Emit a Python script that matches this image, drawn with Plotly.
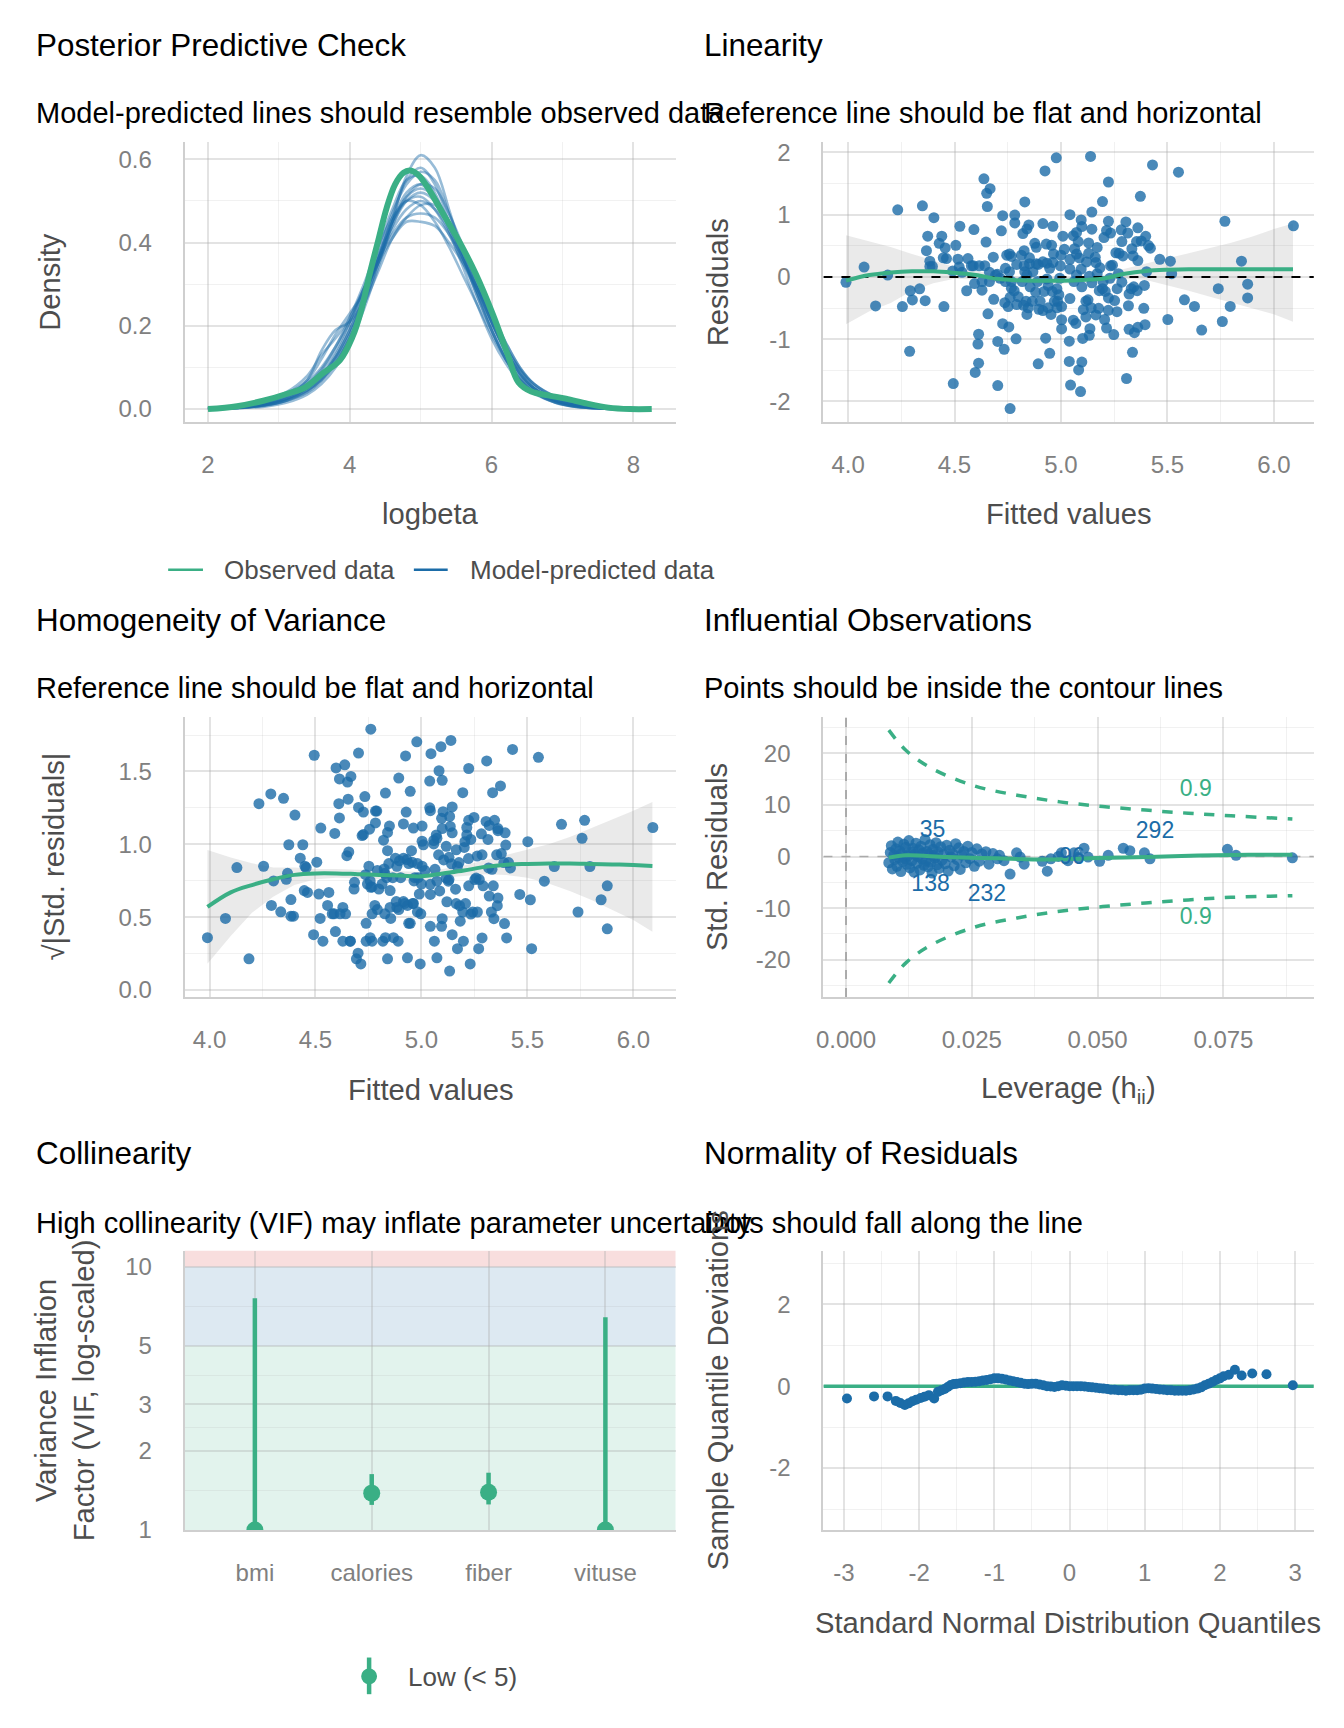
import numpy as np
import plotly.graph_objects as go

GREEN = "#3AAF85"
BLUE = "#1B6CA8"
FONT = "Liberation Sans, Arial, sans-serif"
W, H = 1344, 1728

# ---------------- data ----------------
# posterior predictive check
ppc_obs_x = [2.0, 2.41, 2.78, 3.14, 3.38, 3.62, 3.86, 4.04, 4.16, 4.28, 4.40, 4.52, 4.64, 4.76, 4.85,
             4.97, 5.12, 5.30, 5.54, 5.78, 6.02, 6.23, 6.38, 6.56, 6.80, 7.05, 7.35, 7.65, 7.95, 8.26]
ppc_obs_y = [0.0, 0.007, 0.02, 0.038, 0.053, 0.086, 0.117, 0.174, 0.236, 0.324, 0.404, 0.483, 0.54, 0.568, 0.573,
             0.562, 0.527, 0.474, 0.404, 0.324, 0.227, 0.13, 0.064, 0.042, 0.033, 0.025, 0.013, 0.0035, 0.0, 0.0]
ppc_sim_x = [2.0, 2.4, 2.8, 3.1, 3.4, 3.6, 3.8, 4.0, 4.2, 4.4, 4.6, 4.8, 5.0, 5.2, 5.4, 5.6, 5.8, 6.0,
             6.2, 6.4, 6.6, 6.9, 7.2, 7.6, 8.0]
ppc_sim = [
    [0.001, 0.004, 0.012, 0.025, 0.05, 0.08, 0.125, 0.19, 0.27, 0.36, 0.44, 0.50, 0.52, 0.50, 0.44, 0.37, 0.29, 0.21, 0.14, 0.085, 0.05, 0.022, 0.008, 0.002, 0.0],
    [0.0, 0.002, 0.008, 0.02, 0.045, 0.075, 0.12, 0.18, 0.26, 0.36, 0.46, 0.55, 0.58, 0.54, 0.45, 0.36, 0.27, 0.19, 0.12, 0.07, 0.04, 0.016, 0.005, 0.001, 0.0],
    [0.002, 0.008, 0.02, 0.04, 0.08, 0.13, 0.17, 0.22, 0.29, 0.36, 0.42, 0.46, 0.47, 0.46, 0.42, 0.36, 0.29, 0.22, 0.15, 0.095, 0.055, 0.025, 0.01, 0.003, 0.0],
    [0.0, 0.002, 0.006, 0.015, 0.035, 0.06, 0.10, 0.16, 0.24, 0.34, 0.45, 0.56, 0.61, 0.58, 0.48, 0.37, 0.27, 0.19, 0.12, 0.07, 0.04, 0.015, 0.005, 0.001, 0.0],
    [0.001, 0.005, 0.015, 0.03, 0.06, 0.095, 0.15, 0.22, 0.30, 0.39, 0.46, 0.50, 0.49, 0.45, 0.39, 0.32, 0.25, 0.18, 0.12, 0.075, 0.045, 0.02, 0.008, 0.002, 0.0],
    [0.001, 0.004, 0.012, 0.03, 0.07, 0.14, 0.19, 0.21, 0.26, 0.35, 0.45, 0.52, 0.54, 0.51, 0.44, 0.36, 0.28, 0.20, 0.13, 0.08, 0.045, 0.018, 0.006, 0.001, 0.0],
    [0.001, 0.003, 0.01, 0.022, 0.045, 0.07, 0.11, 0.17, 0.25, 0.33, 0.41, 0.46, 0.49, 0.49, 0.45, 0.39, 0.31, 0.23, 0.16, 0.10, 0.06, 0.028, 0.012, 0.003, 0.0],
    [0.0, 0.003, 0.01, 0.024, 0.05, 0.08, 0.13, 0.20, 0.29, 0.39, 0.48, 0.55, 0.56, 0.52, 0.43, 0.34, 0.25, 0.17, 0.11, 0.065, 0.038, 0.016, 0.006, 0.001, 0.0],
    [0.002, 0.006, 0.016, 0.035, 0.065, 0.10, 0.15, 0.21, 0.28, 0.35, 0.41, 0.45, 0.45, 0.44, 0.40, 0.35, 0.29, 0.23, 0.16, 0.10, 0.06, 0.03, 0.012, 0.003, 0.0],
    [0.001, 0.004, 0.011, 0.024, 0.05, 0.08, 0.125, 0.19, 0.27, 0.36, 0.45, 0.51, 0.53, 0.51, 0.45, 0.38, 0.30, 0.22, 0.15, 0.095, 0.06, 0.03, 0.014, 0.004, 0.0],
    [0.001, 0.004, 0.013, 0.028, 0.055, 0.09, 0.14, 0.21, 0.29, 0.37, 0.45, 0.50, 0.51, 0.48, 0.42, 0.35, 0.28, 0.21, 0.14, 0.09, 0.05, 0.022, 0.009, 0.002, 0.0],
    [0.0, 0.003, 0.009, 0.02, 0.042, 0.07, 0.115, 0.18, 0.27, 0.37, 0.47, 0.54, 0.57, 0.55, 0.47, 0.38, 0.28, 0.19, 0.12, 0.072, 0.04, 0.017, 0.006, 0.001, 0.0],
    [0.002, 0.007, 0.018, 0.036, 0.07, 0.12, 0.18, 0.23, 0.28, 0.35, 0.43, 0.48, 0.50, 0.48, 0.43, 0.36, 0.29, 0.21, 0.14, 0.085, 0.05, 0.022, 0.009, 0.002, 0.0],
    [0.001, 0.003, 0.009, 0.02, 0.04, 0.068, 0.11, 0.17, 0.25, 0.35, 0.44, 0.51, 0.54, 0.53, 0.47, 0.39, 0.30, 0.21, 0.14, 0.085, 0.05, 0.022, 0.008, 0.002, 0.0],
]

# fitted values and residuals (linearity / homogeneity)
lin_fitted = [
    3.99, 4.075, 4.186, 4.129, 4.233, 4.255, 4.289, 4.292, 4.302, 4.336,
    4.349, 4.362, 4.374, 4.368, 4.384, 4.403, 4.396, 4.428, 4.44, 4.45,
    4.456, 4.447, 4.462, 4.494, 4.506, 4.525, 4.516, 4.522, 4.557, 4.563,
    4.591, 4.594, 4.588, 4.597, 4.613, 4.61, 4.613, 4.629, 4.638, 4.648,
    4.651, 4.667, 4.654, 4.657, 4.682, 4.684, 4.693, 4.703, 4.703, 4.72,
    4.726, 4.726, 4.733, 4.739, 4.752, 4.755, 4.761, 4.758, 4.767, 4.783,
    4.783, 4.789, 4.792, 4.814, 4.821, 4.827, 4.83, 4.84, 4.836, 4.849,
    4.852, 4.846, 4.868, 4.877, 4.884, 4.893, 4.893, 4.915, 4.925, 4.928,
    4.931, 4.934, 4.94, 4.947, 4.953, 4.956, 4.962, 4.965, 4.978, 4.984,
    4.99, 5.003, 5.003, 5.009, 5.016, 4.745, 4.767, 4.758, 4.767, 4.78,
    4.799, 4.818, 4.827, 4.84, 4.855, 4.865, 4.881, 4.89, 4.902, 4.915,
    4.921, 4.934, 4.947, 4.959, 4.969, 4.981, 4.994, 4.997, 4.962, 4.915,
    4.852, 4.792, 4.739, 4.714, 4.664, 4.642, 4.616, 4.579, 4.629, 4.664,
    4.701, 4.736, 4.761, 4.824, 4.84, 4.896, 4.94, 4.981, 5.003, 5.0,
    4.884, 4.83, 4.535, 4.491, 4.384,
    5.139, 5.43, 5.552, 5.223, 5.195, 5.373, 5.042, 5.095, 5.145, 5.223,
    5.305, 5.361, 5.77, 6.092, 5.073, 5.058, 5.098, 5.145, 5.214, 5.233,
    5.283, 5.314, 5.398, 5.377, 5.355, 5.202, 5.081, 5.13, 5.17, 5.286,
    5.411, 5.42, 5.258, 5.291, 5.333, 5.339, 5.073, 5.086, 5.161, 5.164,
    5.233, 5.273, 5.361, 5.464, 5.514, 5.848, 5.042, 5.042, 5.095, 5.133,
    5.17, 5.242, 5.27, 5.402, 5.52, 5.098, 5.145, 5.195, 5.208, 5.264,
    5.33, 5.342, 5.358, 5.392, 5.042, 5.117, 5.127, 5.18, 5.223, 5.252,
    5.32, 5.739, 5.877, 5.877, 5.58, 5.627, 5.795, 5.317, 5.389, 5.105,
    5.142, 5.177, 5.222, 5.263, 5.117, 5.164, 5.205, 5.058, 5.07, 5.502,
    5.758, 5.136, 5.214, 5.32, 5.345, 5.361, 5.395, 5.661, 5.248, 5.133,
    5.102, 5.039, 5.336, 5.039, 5.098, 5.083, 5.308, 5.045, 5.092, 5.061,
    5.073, 5.12, 5.198, 5.23, 5.286, 5.183, 5.064, 5.13,
]
lin_resid = [
    -0.085, 0.159, 0.03, -0.466, 1.079, -0.476, -1.196, -0.222, -0.37, -0.19,
    1.143, -0.381, 0.656, 0.423, 0.254, 0.952, 0.169, 0.54, 0.656, -0.476,
    0.466, 0.307, 0.296, -1.714, 0.508, 0.815, 0.286, 0.159, -0.222, 0.296,
    0.762, -0.106, 0.18, -1.534, -1.386, -1.079, -0.921, -0.212, 1.577, 0.561,
    1.344, 1.418, 1.132, -0.593, 0.317, -0.36, 0.03, -1.037, -1.746, 0.741,
    0.984, -0.751, -1.164, 0.138, -0.476, -0.804, -2.116, 0.37, -0.18, 0.995,
    0.868, -0.995, -0.444, 0.349, 0.698, 0.423, 1.206, 0.772, -0.392, 0.836,
    0.212, -0.497, 0.085, 0.54, 0.476, -1.397, 0.201, 0.857, 1.704, -0.984,
    0.529, 0.222, -0.138, -1.228, -0.603, 0.508, 0.815, 0.37, 1.915, -0.392,
    -0.286, -0.836, -0.688, 0.656, 0.444, 0.349, 0.33, 0.085, -0.074, -0.222,
    -0.317, -0.074, 0.18, 0.03, -0.159, -0.392, -0.243, -0.074, -0.392, -0.54,
    -0.233, -0.032, 0.138, -0.233, -0.392, -0.19, -0.021, 0.18, 0.233, 0.243,
    0.307, 0.201, -0.074, -0.021, 0.074, 0.18, 0.18, 0.18, -0.074, -0.074,
    0.042, -0.413, -0.328, -0.455, -0.603, -0.519, -0.497, -0.497, -0.476, 0.349,
    0.212, 0.085, 0.074, 0.095, 0.169,
    1.937, 1.8, 1.684, 1.526, 1.211, 1.295, 1.0, 0.916, 1.042, 0.895,
    0.884, 0.789, 0.895, 0.821, 0.716, 0.663, 0.81, 0.768, 0.747, 0.705,
    0.758, 0.705, 0.653, 0.579, 0.568, 0.632, 0.568, 0.547, 0.474, 0.568,
    0.505, 0.463, 0.389, 0.337, 0.453, 0.337, 0.368, 0.305, 0.316, 0.232,
    0.179, 0.379, 0.263, 0.284, 0.253, 0.253, 0.284, 0.126, 0.126, 0.011,
    0.053, 0.189, 0.053, 0.084, 0.053, -0.158, -0.095, -0.189, -0.232, -0.189,
    -0.189, -0.158, -0.221, -0.137, -0.347, -0.389, -0.368, -0.221, -0.337, -0.379,
    -0.274, -0.189, -0.116, -0.337, -0.368, -0.474, -0.474, -0.463, -0.505, -0.526,
    -0.495, -0.505, -0.537, -0.558, -0.642, -0.611, -0.684, -0.695, -0.747, -0.684,
    -0.716, -0.832, -0.821, -0.842, -0.895, -0.81, -0.768, -0.853, -0.926, -0.937,
    -0.989, -1.032, -1.211, -1.358, -1.368, -1.495, -1.632, -1.737, -1.842, -0.074,
    0.032, 0.242, -0.074, -0.021, -0.084, 0.147, 0.453, 0.379,
]
resid_sigma = 0.66

smooth_x = [3.99, 4.1, 4.2, 4.3, 4.4, 4.5, 4.6, 4.7, 4.8, 4.9, 5.0, 5.1, 5.2, 5.3, 5.4, 5.5, 5.6, 5.7, 5.8, 5.9, 6.0, 6.09]
lin_fit = [-0.06, 0.03, 0.07, 0.09, 0.09, 0.065, 0.03, -0.03, -0.055, -0.06, -0.06, -0.05, -0.025, 0.05, 0.095, 0.115, 0.125, 0.125, 0.125, 0.125, 0.125, 0.125]
lin_lo = [-0.76, -0.55, -0.42, -0.22, -0.1, -0.03, -0.04, -0.09, -0.1, -0.11, -0.11, -0.1, -0.08, -0.03, -0.05, -0.13, -0.22, -0.32, -0.42, -0.51, -0.6, -0.72]
lin_hi = [0.67, 0.57, 0.48, 0.37, 0.26, 0.16, 0.1, 0.03, 0.0, -0.01, -0.01, 0.0, 0.03, 0.13, 0.22, 0.3, 0.38, 0.46, 0.55, 0.65, 0.77, 0.86]
homo_fit = [0.57, 0.67, 0.72, 0.76, 0.79, 0.80, 0.80, 0.795, 0.79, 0.785, 0.78, 0.80, 0.82, 0.845, 0.86, 0.865, 0.868, 0.868, 0.865, 0.862, 0.857, 0.851]
homo_lo = [0.18, 0.37, 0.53, 0.64, 0.72, 0.76, 0.77, 0.765, 0.76, 0.755, 0.75, 0.77, 0.785, 0.795, 0.79, 0.77, 0.73, 0.68, 0.62, 0.55, 0.48, 0.40]
homo_hi = [0.96, 0.91, 0.87, 0.84, 0.84, 0.83, 0.83, 0.825, 0.82, 0.815, 0.81, 0.83, 0.855, 0.89, 0.925, 0.96, 1.0, 1.05, 1.11, 1.17, 1.23, 1.29]

# influential observations
infl_lev = [
    0.0085, 0.0088, 0.009, 0.0092, 0.0095, 0.0097, 0.0099, 0.0101, 0.0103, 0.0105,
    0.0107, 0.0109, 0.0111, 0.0113, 0.0115, 0.0117, 0.0119, 0.0121, 0.0123, 0.0125,
    0.0127, 0.0129, 0.0131, 0.0133, 0.0135, 0.0137, 0.0139, 0.0141, 0.0143, 0.0145,
    0.0147, 0.0149, 0.0151, 0.0153, 0.0155, 0.0157, 0.0159, 0.0161, 0.0163, 0.0165,
    0.0167, 0.0169, 0.0171, 0.0173, 0.0175, 0.0177, 0.0179, 0.0181, 0.0183, 0.0185,
    0.0188, 0.0191, 0.0194, 0.0197, 0.02, 0.0203, 0.0206, 0.0209, 0.0212, 0.0215,
    0.0218, 0.0221, 0.0224, 0.0227, 0.023, 0.0234, 0.0238, 0.0242, 0.0246, 0.025,
    0.0255, 0.026, 0.0265, 0.027,
    0.0278, 0.0284, 0.0292, 0.0301, 0.0305, 0.0314, 0.0326, 0.0339, 0.0346, 0.0354,
    0.039, 0.04, 0.0407, 0.0422, 0.0428, 0.0441, 0.0453, 0.0462, 0.0473, 0.0481,
    0.0504, 0.0521, 0.0551, 0.0564, 0.0593, 0.0604, 0.0758, 0.0775, 0.0887,
]
infl_res = [
    -1.2, 0.8, 2.1, -2.4, 0.3, -0.6, 1.5, -1.9, 2.8, -0.2,
    1.1, -2.9, 0.6, -1.0, 2.4, -0.4, 1.8, -1.5, 0.1, 3.1,
    -2.2, 0.9, -0.8, 1.6, -3.0, 0.4, 2.6, -1.3, 0.0, 1.3,
    -2.6, 2.0, -0.5, 0.7, -1.7, 3.3, -0.9, 1.0, -2.0, 0.5,
    2.3, -1.1, -3.2, 1.4, 0.2, -0.3, 2.7, -1.6, 0.9, -2.3,
    1.9, -0.7, 0.4, -1.4, 2.2, -2.8, 1.2, -0.1, 0.6, -1.8,
    2.5, -0.6, 1.7, -2.5, 0.3, 1.0, -1.2, 2.0, -0.4, 0.8,
    -1.9, 1.5, -0.9, 0.5,
    0.93, -1.47, 0.59, -0.44, 0.24, -0.79, -3.39, 0.72, -0.1, -1.47,
    -0.92, -2.84, -0.44, 0.03, 0.72, -0.79, 0.72, -0.1, 1.61, -0.1,
    -0.92, 0.24, 1.61, 1.13, 0.72, -0.44, 1.41, 0.24, -0.24,
]
infl_fit_x = [0.0085, 0.012, 0.02, 0.03, 0.04, 0.05, 0.06, 0.07, 0.08, 0.0887]
infl_fit_y = [-0.2, 0.25, -0.1, -0.35, -0.55, -0.3, -0.1, 0.2, 0.35, 0.35]
cook_lev = [0.0085, 0.012, 0.017, 0.0255, 0.034, 0.0425, 0.051, 0.0595, 0.068, 0.0765, 0.0887]
cook_upper = [24.5, 20.5, 17.1, 13.7, 11.9, 10.6, 9.7, 9.0, 8.4, 7.9, 7.3]
cook_lower = [-24.5, -20.5, -17.1, -13.7, -11.9, -10.6, -9.7, -9.0, -8.4, -7.9, -7.6]
infl_labels = ["35", "138", "232", "292", "96"]
infl_label_x = [0.0172, 0.0168, 0.028, 0.0614, 0.0449]
infl_label_y = [4.9, -5.6, -7.5, 4.8, -0.4]
cook_label = ["0.9", "0.9"]
cook_label_x = [0.0695, 0.0695]
cook_label_y = [12.8, -11.9]

# collinearity
vif_terms = ["bmi", "calories", "fiber", "vituse"]
vif_value = [1.0, 1.38, 1.39, 1.0]
vif_ci_low = [1.0, 1.245, 1.25, 1.0]
vif_ci_high = [7.6, 1.63, 1.65, 6.44]

# normality (detrended qq)
qq_x = [-2.96, -2.60, -2.42, -2.31, -2.25, -2.19, -2.14, -2.09, -2.04, -1.98,
        -1.93, -1.87, -1.80, -1.75, -1.70, -1.66, -1.62, -1.58, -1.54, -1.50,
        -1.45, -1.40, -1.35, -1.30, -1.25, -1.20, -1.15, -1.10, -1.05, -1.00,
        -0.95, -0.90, -0.85, -0.80, -0.75, -0.70, -0.65, -0.60, -0.55, -0.50,
        -0.45, -0.40, -0.35, -0.30, -0.25, -0.20, -0.15, -0.10, -0.05, 0.00,
        0.05, 0.10, 0.15, 0.20, 0.25, 0.30, 0.35, 0.40, 0.45, 0.50,
        0.55, 0.60, 0.65, 0.70, 0.75, 0.80, 0.85, 0.90, 0.95, 1.00,
        1.05, 1.10, 1.15, 1.20, 1.25, 1.30, 1.35, 1.40, 1.45, 1.50,
        1.55, 1.60, 1.65, 1.70, 1.75, 1.80, 1.85, 1.90, 1.95, 2.00,
        2.05, 2.12, 2.20, 2.29, 2.43, 2.62, 2.97]
qq_y = [-0.30, -0.25, -0.25, -0.36, -0.41, -0.46, -0.42, -0.37, -0.33, -0.29,
        -0.26, -0.22, -0.30, -0.14, -0.10, -0.07, -0.02, 0.03, 0.05, 0.06,
        0.07, 0.09, 0.10, 0.10, 0.11, 0.12, 0.14, 0.15, 0.17, 0.19,
        0.19, 0.18, 0.16, 0.14, 0.12, 0.10, 0.08, 0.06, 0.05, 0.06,
        0.06, 0.04, 0.02, 0.00, -0.01, -0.02, 0.00, 0.02, 0.01, 0.00,
        0.00, 0.00, 0.00, -0.01, -0.02, -0.03, -0.04, -0.05, -0.06, -0.07,
        -0.09, -0.09, -0.10, -0.10, -0.11, -0.10, -0.10, -0.10, -0.09, -0.06,
        -0.05, -0.06, -0.07, -0.08, -0.09, -0.10, -0.10, -0.11, -0.11, -0.11,
        -0.11, -0.10, -0.08, -0.06, -0.03, 0.02, 0.06, 0.10, 0.15, 0.19,
        0.24, 0.28, 0.40, 0.26, 0.31, 0.29, 0.02]

# axis ranges
ppc_xrange, ppc_yrange = [1.673, 8.595], [-0.031, 0.641]
lin_xrange, lin_yrange = [3.884, 6.188], [-2.331, 2.164]
homo_xrange, homo_yrange = [3.883, 6.199], [-0.048, 1.876]
infl_xrange, infl_yrange = [-0.00449, 0.09297], [-27.2, 27.1]
vif_yrange = [0, 1.062]
norm_xrange, norm_yrange = [-3.273, 3.25], [-3.51, 3.31]


def px(x):
    return x / W


def py(y):
    return 1 - y / H


fig = go.Figure()

# --- posterior predictive check
for curve in ppc_sim:
    fig.add_trace(go.Scatter(x=ppc_sim_x, y=curve, mode="lines", line=dict(color=BLUE, width=2.6, shape="spline"),
                             opacity=0.45, xaxis="x", yaxis="y", showlegend=False))
fig.add_trace(go.Scatter(x=ppc_obs_x, y=ppc_obs_y, mode="lines", line=dict(color=GREEN, width=6, shape="spline"),
                         xaxis="x", yaxis="y", showlegend=False))

# --- linearity
fig.add_trace(go.Scatter(x=smooth_x + smooth_x[::-1], y=lin_hi + lin_lo[::-1], fill="toself",
                         fillcolor="rgba(150,150,150,0.2)", line=dict(width=0), mode="lines",
                         xaxis="x2", yaxis="y2", showlegend=False))
fig.add_trace(go.Scatter(x=lin_fitted, y=lin_resid, mode="markers",
                         marker=dict(color=BLUE, size=11, opacity=0.8), xaxis="x2", yaxis="y2", showlegend=False))
fig.add_trace(go.Scatter(x=lin_xrange, y=[0, 0], mode="lines", line=dict(color="black", width=2, dash="dash"),
                         xaxis="x2", yaxis="y2", showlegend=False))
fig.add_trace(go.Scatter(x=smooth_x, y=lin_fit, mode="lines", line=dict(color=GREEN, width=4, shape="spline"),
                         xaxis="x2", yaxis="y2", showlegend=False))

# --- homogeneity of variance
homo_y = np.sqrt(np.abs(np.array(lin_resid)) / resid_sigma)
fig.add_trace(go.Scatter(x=smooth_x + smooth_x[::-1], y=homo_hi + homo_lo[::-1], fill="toself",
                         fillcolor="rgba(150,150,150,0.2)", line=dict(width=0), mode="lines",
                         xaxis="x3", yaxis="y3", showlegend=False))
fig.add_trace(go.Scatter(x=lin_fitted, y=homo_y, mode="markers",
                         marker=dict(color=BLUE, size=11, opacity=0.8), xaxis="x3", yaxis="y3", showlegend=False))
fig.add_trace(go.Scatter(x=smooth_x, y=homo_fit, mode="lines", line=dict(color=GREEN, width=4, shape="spline"),
                         xaxis="x3", yaxis="y3", showlegend=False))

# --- influential observations
fig.add_trace(go.Scatter(x=[0, 0], y=infl_yrange, mode="lines", line=dict(color="#999999", width=1.5, dash="dash"),
                         xaxis="x4", yaxis="y4", showlegend=False))
fig.add_trace(go.Scatter(x=infl_xrange, y=[0, 0], mode="lines", line=dict(color="#AAAAAA", width=1.5, dash="dash"),
                         xaxis="x4", yaxis="y4", showlegend=False))
for cy in (cook_upper, cook_lower):
    fig.add_trace(go.Scatter(x=cook_lev, y=cy, mode="lines", line=dict(color=GREEN, width=3.5, dash="dash", shape="spline"),
                             xaxis="x4", yaxis="y4", showlegend=False))
fig.add_trace(go.Scatter(x=infl_lev, y=infl_res, mode="markers",
                         marker=dict(color=BLUE, size=11, opacity=0.8), xaxis="x4", yaxis="y4", showlegend=False))
fig.add_trace(go.Scatter(x=infl_fit_x, y=infl_fit_y, mode="lines", line=dict(color=GREEN, width=4, shape="spline"),
                         xaxis="x4", yaxis="y4", showlegend=False))
fig.add_trace(go.Scatter(x=infl_label_x, y=infl_label_y, mode="text", text=infl_labels,
                         textfont=dict(color=BLUE, size=23, family=FONT), xaxis="x4", yaxis="y4", showlegend=False))
fig.add_trace(go.Scatter(x=cook_label_x, y=cook_label_y, mode="text", text=cook_label,
                         textfont=dict(color=GREEN, size=23, family=FONT), xaxis="x4", yaxis="y4", showlegend=False))

# --- collinearity
fig.add_trace(go.Scatter(
    x=vif_terms, y=vif_value, mode="markers",
    marker=dict(color=GREEN, size=17),
    error_y=dict(type="data", symmetric=False,
                 array=[h - v for h, v in zip(vif_ci_high, vif_value)],
                 arrayminus=[v - l for v, l in zip(vif_value, vif_ci_low)],
                 color=GREEN, thickness=4.5, width=0),
    xaxis="x5", yaxis="y5", showlegend=False))

# --- normality
fig.add_trace(go.Scatter(x=norm_xrange, y=[0, 0], mode="lines", line=dict(color=GREEN, width=3.5),
                         xaxis="x6", yaxis="y6", showlegend=False))
fig.add_trace(go.Scatter(x=qq_x, y=qq_y, mode="markers", marker=dict(color=BLUE, size=10),
                         xaxis="x6", yaxis="y6", showlegend=False))

# ---------------- axes ----------------
GRID = "rgba(170,170,170,0.33)"
MINOR = "rgba(170,170,170,0.17)"


def axis(domain, rng, tickvals, ticktext, minor_vals, anchor, is_x, **kw):
    d = dict(domain=domain, range=rng, tickvals=tickvals, ticktext=ticktext,
             showgrid=True, gridcolor=GRID, gridwidth=1.6, zeroline=False,
             showline=True, linecolor="#CFCFCF", linewidth=2.2, ticks="",
             tickfont=dict(size=24, color="#808080", family=FONT),
             ticklabelstandoff=20 if is_x else 26,
             minor=dict(tickvals=minor_vals, showgrid=True, gridcolor=MINOR, gridwidth=1.1),
             anchor=anchor, fixedrange=True)
    d.update(kw)
    return d


L_DOM = [px(178.7), px(672)]
R_DOM = [px(820.7), px(1313.7)]
ROW1 = [py(422.9), py(140.6)]
ROW2 = [py(1003.2), py(720.4)]
ROW3 = [py(1541.2), py(1259.2)]

lin_ticks = [4.0, 4.5, 5.0, 5.5, 6.0]
lin_text = ["4.0", "4.5", "5.0", "5.5", "6.0"]
lin_minor = [4.25, 4.75, 5.25, 5.75]

layout_axes = dict(
    xaxis=axis(L_DOM, ppc_xrange, [2, 4, 6, 8], ["2", "4", "6", "8"], [3, 5, 7], "y", True),
    yaxis=axis(ROW1, ppc_yrange, [0, 0.2, 0.4, 0.6], ["0.0", "0.2", "0.4", "0.6"], [0.1, 0.3, 0.5], "x", False),
    xaxis2=axis(R_DOM, lin_xrange, lin_ticks, lin_text, lin_minor, "y2", True),
    yaxis2=axis(ROW1, lin_yrange, [-2, -1, 0, 1, 2], ["-2", "-1", "0", "1", "2"], [-1.5, -0.5, 0.5, 1.5], "x2", False),
    xaxis3=axis(L_DOM, homo_xrange, lin_ticks, lin_text, lin_minor, "y3", True),
    yaxis3=axis(ROW2, homo_yrange, [0, 0.5, 1.0, 1.5], ["0.0", "0.5", "1.0", "1.5"], [0.25, 0.75, 1.25, 1.75], "x3", False),
    xaxis4=axis(R_DOM, infl_xrange, [0, 0.025, 0.05, 0.075], ["0.000", "0.025", "0.050", "0.075"],
                [0.0125, 0.0375, 0.0625, 0.0875], "y4", True),
    yaxis4=axis(ROW2, infl_yrange, [-20, -10, 0, 10, 20], ["-20", "-10", "0", "10", "20"],
                [-25, -15, -5, 5, 15, 25], "x4", False),
    xaxis5=axis(L_DOM, [-0.6, 3.6], vif_terms, vif_terms, [], "y5", True, type="category"),
    yaxis5=axis(ROW3, vif_yrange, [1, 2, 3, 5, 10], ["1", "2", "3", "5", "10"],
                [1.414, 2.449, 3.873, 7.071], "x5", False, type="log"),
    xaxis6=axis(R_DOM, norm_xrange, [-3, -2, -1, 0, 1, 2, 3], ["-3", "-2", "-1", "0", "1", "2", "3"],
                [-2.5, -1.5, -0.5, 0.5, 1.5, 2.5], "y6", True),
    yaxis6=axis(ROW3, norm_yrange, [-2, 0, 2], ["-2", "0", "2"], [-3, -1, 1, 3], "x6", False),
)

# ---------------- text ----------------
ann = []


def text(x, y, s, size, color="black", anchor="left", angle=0):
    ann.append(dict(x=px(x), y=py(y), xref="paper", yref="paper", text=s, showarrow=False,
                    xanchor=anchor, yanchor="middle", textangle=angle, borderpad=0,
                    font=dict(size=size, color=color, family=FONT)))


AX = "#4D4D4D"
TS, SS, AS = 31.4, 29, 29.2
# titles and subtitles
text(28, 43, "Posterior Predictive Check", TS)
text(28, 111, "Model-predicted lines should resemble observed data", SS)
text(700, 43, "Linearity", TS)
text(700, 111, "Reference line should be flat and horizontal", SS)
text(28, 623, "Homogeneity of Variance", TS)
text(28, 691, "Reference line should be flat and horizontal", SS)
text(700, 623, "Influential Observations", TS)
text(700, 691, "Points should be inside the contour lines", SS)
text(28, 1161, "Collinearity", TS)
text(28, 1231, "High collinearity (VIF) may inflate parameter uncertainty", SS)
text(700, 1161, "Normality of Residuals", TS)
text(700, 1231, "Dots should fall along the line", SS)

# axis titles
text(425.4, 516, "logbeta", AS, AX, "center")
text(1067, 516, "Fitted values", AS, AX, "center")
text(425.4, 1097, "Fitted values", AS, AX, "center")
text(1067, 1097, "Leverage (h<sub>ii</sub>)", AS, AX, "center")
text(1067, 1635, "Standard Normal Distribution Quantiles", AS, AX, "center")
text(43, 281.7, "Density", AS, AX, "center", -90)
text(715, 281.7, "Residuals", AS, AX, "center", -90)
text(47, 861.8, "√|Std. residuals|", AS, AX, "center", -90)
text(714, 861.8, "Std. Residuals", AS, AX, "center", -90)
text(58.5, 1400, "Variance Inflation<br>Factor (VIF, log-scaled)", AS, AX, "center", -90)
text(715, 1400, "Sample Quantile Deviations", AS, AX, "center", -90)

# legends
text(217, 572, "Observed data", 26, AX)
text(464, 572, "Model-predicted data", 26, AX)
text(402, 1690, "Low (< 5)", 26, AX)

shapes = [
    dict(type="line", xref="paper", yref="paper", x0=px(162), x1=px(197), y0=py(572), y1=py(572),
         line=dict(color=GREEN, width=2.5)),
    dict(type="line", xref="paper", yref="paper", x0=px(409), x1=px(443), y0=py(572), y1=py(572),
         line=dict(color=BLUE, width=2.5)),
    dict(type="line", xref="paper", yref="paper", x0=px(364), x1=px(364), y0=py(1670), y1=py(1707),
         line=dict(color=GREEN, width=4.5)),
    dict(type="circle", xref="paper", yref="paper", x0=px(356), x1=px(372), y0=py(1697), y1=py(1681),
         fillcolor=GREEN, line=dict(color=GREEN, width=0)),
    # collinearity bands
    dict(type="rect", xref="x5 domain", yref="y5", x0=0, x1=1, y0=1, y1=5,
         fillcolor="rgba(58,175,133,0.15)", line=dict(width=0), layer="below"),
    dict(type="rect", xref="x5 domain", yref="y5", x0=0, x1=1, y0=5, y1=10,
         fillcolor="rgba(27,108,168,0.15)", line=dict(width=0), layer="below"),
    dict(type="rect", xref="x5 domain", yref="y5", x0=0, x1=1, y0=10, y1=10 ** vif_yrange[1],
         fillcolor="rgba(205,32,31,0.15)", line=dict(width=0), layer="below"),
]

fig.update_layout(
    width=W, height=H, margin=dict(l=0, r=0, t=0, b=0),
    paper_bgcolor="white", plot_bgcolor="rgba(0,0,0,0)",
    font=dict(family=FONT), showlegend=False,
    annotations=ann, shapes=shapes, **layout_axes,
)

fig.write_html(
    "out.html",
    config={"displayModeBar": False},
    post_script="document.body.style.margin='0';",
)
